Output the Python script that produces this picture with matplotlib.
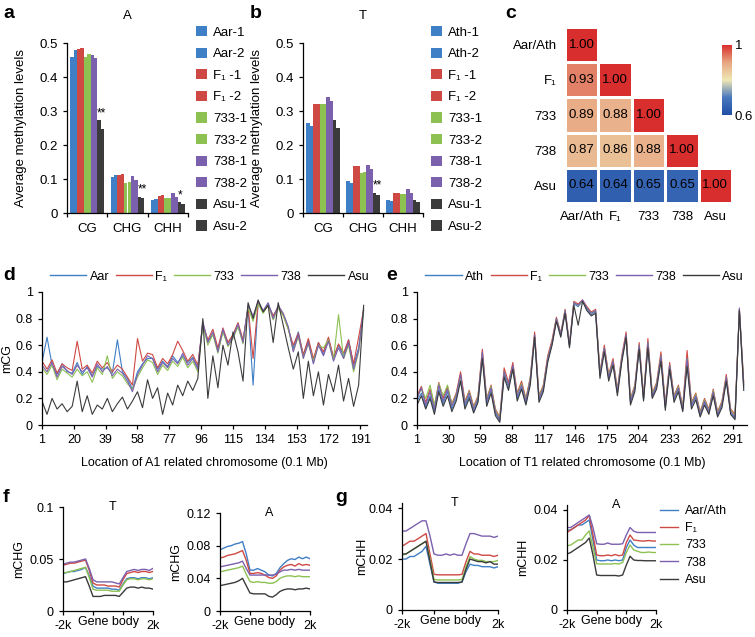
import numpy as np
import matplotlib
matplotlib.use('Agg')
import matplotlib.pyplot as plt
from matplotlib.colors import LinearSegmentedColormap
from matplotlib.lines import Line2D

plt.rcParams['font.family'] = ['Liberation Sans', 'DejaVu Sans']
plt.rcParams['font.size'] = 8.5
plt.rcParams['axes.linewidth'] = 0.9
plt.rcParams['xtick.major.width'] = 0.9
plt.rcParams['ytick.major.width'] = 0.9
plt.rcParams['xtick.major.size'] = 3
plt.rcParams['ytick.major.size'] = 3

# ---------------- data ----------------
contexts = ['CG', 'CHG', 'CHH']
samples_a = ['Aar-1', 'Aar-2', 'F₁ -1', 'F₁ -2', '733-1', '733-2', '738-1', '738-2', 'Asu-1', 'Asu-2']
samples_b = ['Ath-1', 'Ath-2', 'F₁ -1', 'F₁ -2', '733-1', '733-2', '738-1', '738-2', 'Asu-1', 'Asu-2']

a_cg = [0.460, 0.480, 0.483, 0.485, 0.460, 0.467, 0.465, 0.455, 0.273, 0.248]
a_chg = [0.105, 0.113, 0.112, 0.115, 0.088, 0.092, 0.110, 0.098, 0.048, 0.043]
a_chh = [0.038, 0.040, 0.050, 0.052, 0.044, 0.044, 0.058, 0.046, 0.032, 0.027]

b_cg = [0.265, 0.255, 0.320, 0.320, 0.320, 0.322, 0.340, 0.330, 0.275, 0.250]
b_chg = [0.094, 0.087, 0.137, 0.138, 0.118, 0.120, 0.140, 0.130, 0.060, 0.053]
b_chh = [0.038, 0.034, 0.060, 0.060, 0.055, 0.056, 0.072, 0.060, 0.038, 0.033]

heat_labels = ['Aar/Ath', 'F₁', '733', '738', 'Asu']
heat_rows = [[1.00],
             [0.93, 1.00],
             [0.89, 0.88, 1.00],
             [0.87, 0.86, 0.88, 1.00],
             [0.64, 0.64, 0.65, 0.65, 1.00]]

# panel d: A1 related chromosome, every 3rd bin (0.1 Mb)
d_x = np.arange(1, 194, 3)
d_aar = [0.47, 0.66, 0.45, 0.38, 0.46, 0.40, 0.39, 0.47, 0.38, 0.44,
         0.37, 0.44, 0.42, 0.43, 0.39, 0.64, 0.40, 0.35, 0.27, 0.40,
         0.46, 0.50, 0.50, 0.42, 0.48, 0.44, 0.52, 0.47, 0.52, 0.47,
         0.51, 0.43, 0.76, 0.63, 0.68, 0.57, 0.70, 0.62, 0.67, 0.74,
         0.63, 0.88, 0.30, 0.92, 0.85, 0.91, 0.82, 0.88, 0.83, 0.73,
         0.58, 0.70, 0.52, 0.64, 0.47, 0.62, 0.53, 0.65, 0.50, 0.60,
         0.52, 0.64, 0.45, 0.58, 0.86]
d_f1 = [0.48, 0.42, 0.49, 0.39, 0.46, 0.43, 0.41, 0.63, 0.42, 0.45,
        0.39, 0.48, 0.43, 0.47, 0.40, 0.45, 0.42, 0.36, 0.30, 0.65,
        0.48, 0.54, 0.53, 0.43, 0.50, 0.46, 0.53, 0.63, 0.56, 0.48,
        0.53, 0.45, 0.76, 0.64, 0.72, 0.58, 0.73, 0.62, 0.68, 0.77,
        0.64, 0.89, 0.50, 0.92, 0.85, 0.90, 0.82, 0.89, 0.83, 0.72,
        0.60, 0.69, 0.53, 0.65, 0.50, 0.62, 0.55, 0.66, 0.51, 0.61,
        0.54, 0.64, 0.46, 0.66, 0.87]
d_733 = [0.43, 0.38, 0.45, 0.34, 0.42, 0.39, 0.36, 0.42, 0.37, 0.40,
         0.32, 0.43, 0.38, 0.52, 0.35, 0.40, 0.37, 0.31, 0.27, 0.36,
         0.43, 0.49, 0.47, 0.38, 0.45, 0.41, 0.48, 0.44, 0.51, 0.43,
         0.48, 0.40, 0.75, 0.60, 0.68, 0.54, 0.70, 0.59, 0.65, 0.74,
         0.61, 0.88, 0.78, 0.91, 0.84, 0.90, 0.79, 0.88, 0.82, 0.72,
         0.56, 0.66, 0.51, 0.61, 0.48, 0.60, 0.58, 0.64, 0.49, 0.83,
         0.50, 0.60, 0.40, 0.55, 0.86]
d_738 = [0.45, 0.40, 0.47, 0.36, 0.44, 0.41, 0.38, 0.45, 0.40, 0.43,
         0.36, 0.46, 0.40, 0.44, 0.37, 0.42, 0.39, 0.33, 0.25, 0.38,
         0.45, 0.52, 0.50, 0.40, 0.47, 0.43, 0.50, 0.46, 0.54, 0.45,
         0.50, 0.42, 0.78, 0.62, 0.70, 0.55, 0.72, 0.60, 0.66, 0.76,
         0.62, 0.90, 0.82, 0.93, 0.86, 0.92, 0.80, 0.90, 0.84, 0.74,
         0.55, 0.68, 0.50, 0.62, 0.46, 0.60, 0.52, 0.63, 0.48, 0.58,
         0.50, 0.62, 0.42, 0.56, 0.88]
d_asu = [0.18, 0.08, 0.20, 0.12, 0.16, 0.10, 0.14, 0.33, 0.10, 0.22,
         0.08, 0.15, 0.12, 0.20, 0.10, 0.16, 0.21, 0.12, 0.18, 0.25,
         0.13, 0.34, 0.20, 0.28, 0.08, 0.24, 0.15, 0.30, 0.22, 0.33,
         0.26, 0.35, 0.80, 0.20, 0.52, 0.28, 0.60, 0.45, 0.70, 0.55,
         0.33, 0.92, 0.80, 0.94, 0.85, 0.90, 0.62, 0.92, 0.75, 0.58,
         0.42, 0.55, 0.20, 0.48, 0.22, 0.40, 0.15, 0.38, 0.25, 0.45,
         0.18, 0.35, 0.14, 0.30, 0.90]

# panel e: T1 related chromosome, every 4th bin (0.1 Mb)
e_x = np.arange(1, 302, 4)
e_ath = [0.18, 0.24, 0.13, 0.22, 0.10, 0.27, 0.16, 0.25, 0.12, 0.20,
         0.35, 0.14, 0.22, 0.10, 0.18, 0.52, 0.16, 0.26, 0.09, 0.03,
         0.38, 0.28, 0.43, 0.20, 0.28, 0.16, 0.32, 0.66, 0.19, 0.27,
         0.49, 0.61, 0.79, 0.67, 0.85, 0.59, 0.91, 0.89, 0.93, 0.87,
         0.83, 0.85, 0.37, 0.57, 0.35, 0.47, 0.24, 0.49, 0.66, 0.17,
         0.27, 0.58, 0.19, 0.60, 0.21, 0.29, 0.50, 0.13, 0.43, 0.19,
         0.27, 0.11, 0.48, 0.14, 0.21, 0.07, 0.17, 0.09, 0.24, 0.07,
         0.15, 0.34, 0.09, 0.05, 0.86, 0.28]
e_f1 = [0.22, 0.29, 0.17, 0.27, 0.14, 0.32, 0.20, 0.29, 0.16, 0.24,
        0.40, 0.18, 0.26, 0.14, 0.22, 0.57, 0.20, 0.30, 0.12, 0.06,
        0.43, 0.32, 0.47, 0.24, 0.33, 0.20, 0.36, 0.70, 0.22, 0.30,
        0.52, 0.64, 0.81, 0.69, 0.87, 0.61, 0.93, 0.91, 0.94, 0.89,
        0.85, 0.87, 0.40, 0.60, 0.38, 0.50, 0.27, 0.52, 0.70, 0.20,
        0.30, 0.62, 0.22, 0.65, 0.24, 0.32, 0.55, 0.16, 0.47, 0.22,
        0.30, 0.14, 0.56, 0.17, 0.24, 0.10, 0.20, 0.12, 0.27, 0.10,
        0.18, 0.38, 0.12, 0.08, 0.87, 0.32]
e_733 = [0.21, 0.27, 0.20, 0.30, 0.15, 0.31, 0.22, 0.30, 0.15, 0.23,
         0.36, 0.17, 0.25, 0.13, 0.21, 0.53, 0.19, 0.29, 0.11, 0.05,
         0.40, 0.30, 0.44, 0.23, 0.31, 0.19, 0.35, 0.67, 0.21, 0.29,
         0.50, 0.62, 0.80, 0.68, 0.86, 0.60, 0.92, 0.90, 0.93, 0.88,
         0.84, 0.86, 0.39, 0.58, 0.37, 0.48, 0.26, 0.50, 0.67, 0.19,
         0.29, 0.60, 0.21, 0.62, 0.23, 0.31, 0.52, 0.15, 0.45, 0.21,
         0.29, 0.13, 0.50, 0.16, 0.23, 0.09, 0.19, 0.11, 0.26, 0.09,
         0.17, 0.36, 0.11, 0.07, 0.87, 0.30]
e_738 = [0.20, 0.28, 0.15, 0.25, 0.12, 0.30, 0.18, 0.27, 0.14, 0.22,
         0.38, 0.16, 0.24, 0.12, 0.20, 0.55, 0.18, 0.28, 0.10, 0.04,
         0.40, 0.30, 0.45, 0.22, 0.30, 0.18, 0.34, 0.68, 0.20, 0.28,
         0.50, 0.62, 0.80, 0.68, 0.86, 0.60, 0.92, 0.90, 0.94, 0.88,
         0.84, 0.86, 0.38, 0.58, 0.36, 0.48, 0.25, 0.50, 0.68, 0.18,
         0.28, 0.60, 0.20, 0.62, 0.22, 0.30, 0.52, 0.14, 0.45, 0.20,
         0.28, 0.12, 0.50, 0.15, 0.22, 0.08, 0.18, 0.10, 0.25, 0.08,
         0.16, 0.36, 0.10, 0.06, 0.88, 0.30]
e_asu = [0.15, 0.22, 0.12, 0.20, 0.08, 0.25, 0.14, 0.22, 0.10, 0.18,
         0.33, 0.12, 0.20, 0.09, 0.17, 0.50, 0.14, 0.24, 0.07, 0.02,
         0.36, 0.26, 0.42, 0.18, 0.27, 0.15, 0.30, 0.66, 0.17, 0.25,
         0.47, 0.60, 0.78, 0.66, 0.84, 0.58, 0.90, 0.75, 0.93, 0.86,
         0.82, 0.84, 0.35, 0.55, 0.33, 0.45, 0.22, 0.47, 0.66, 0.15,
         0.25, 0.57, 0.18, 0.58, 0.20, 0.27, 0.48, 0.11, 0.42, 0.17,
         0.25, 0.10, 0.44, 0.12, 0.19, 0.06, 0.15, 0.08, 0.22, 0.06,
         0.13, 0.33, 0.08, 0.04, 0.86, 0.26]

# panels f/g: metaprofiles, 8 bins upstream, 8 gene body, 8 downstream
ft_aar = [0.036, 0.037, 0.038, 0.038, 0.039, 0.040, 0.042, 0.034, 0.024, 0.022, 0.022, 0.022, 0.022, 0.021, 0.021, 0.020,
          0.026, 0.031, 0.032, 0.032, 0.031, 0.032, 0.032, 0.031, 0.032]
ft_f1 = [0.044, 0.045, 0.046, 0.046, 0.047, 0.048, 0.049, 0.039, 0.027, 0.025, 0.025, 0.025, 0.024, 0.024, 0.024, 0.023,
         0.030, 0.036, 0.037, 0.038, 0.037, 0.038, 0.038, 0.037, 0.038]
ft_733 = [0.037, 0.037, 0.038, 0.039, 0.040, 0.041, 0.042, 0.032, 0.021, 0.020, 0.020, 0.020, 0.020, 0.019, 0.019, 0.019,
          0.025, 0.030, 0.031, 0.031, 0.030, 0.031, 0.031, 0.030, 0.031]
ft_738 = [0.045, 0.046, 0.047, 0.047, 0.048, 0.049, 0.050, 0.041, 0.030, 0.028, 0.028, 0.028, 0.028, 0.028, 0.027, 0.026,
          0.032, 0.038, 0.039, 0.040, 0.039, 0.040, 0.040, 0.039, 0.041]
ft_asu = [0.028, 0.028, 0.029, 0.030, 0.031, 0.032, 0.033, 0.024, 0.014, 0.014, 0.014, 0.015, 0.015, 0.015, 0.015, 0.014,
          0.018, 0.022, 0.023, 0.023, 0.022, 0.023, 0.022, 0.022, 0.021]

fa_aar = [0.075, 0.077, 0.079, 0.080, 0.082, 0.083, 0.085, 0.070, 0.050, 0.050, 0.052, 0.050, 0.048, 0.044, 0.043, 0.046,
          0.053, 0.058, 0.062, 0.064, 0.063, 0.066, 0.064, 0.066, 0.064]
fa_f1 = [0.065, 0.066, 0.068, 0.069, 0.070, 0.072, 0.074, 0.062, 0.046, 0.046, 0.047, 0.046, 0.044, 0.041, 0.040, 0.043,
         0.050, 0.054, 0.056, 0.057, 0.055, 0.058, 0.056, 0.057, 0.056]
fa_733 = [0.048, 0.049, 0.050, 0.051, 0.052, 0.053, 0.055, 0.045, 0.036, 0.035, 0.036, 0.035, 0.035, 0.034, 0.034, 0.036,
          0.040, 0.042, 0.043, 0.043, 0.042, 0.043, 0.042, 0.042, 0.042]
fa_738 = [0.054, 0.055, 0.056, 0.057, 0.058, 0.059, 0.061, 0.052, 0.044, 0.044, 0.044, 0.044, 0.044, 0.044, 0.044, 0.045,
          0.048, 0.050, 0.050, 0.051, 0.050, 0.051, 0.050, 0.050, 0.050]
fa_asu = [0.031, 0.032, 0.033, 0.034, 0.035, 0.037, 0.040, 0.031, 0.022, 0.021, 0.021, 0.021, 0.021, 0.018, 0.017, 0.020,
          0.024, 0.026, 0.027, 0.027, 0.026, 0.027, 0.027, 0.028, 0.027]

gt_aar = [0.020, 0.020, 0.021, 0.021, 0.022, 0.023, 0.025, 0.018, 0.011, 0.0105, 0.0105, 0.0105, 0.0105, 0.0105, 0.0105, 0.011,
          0.015, 0.018, 0.0175, 0.0175, 0.017, 0.017, 0.017, 0.0165, 0.017]
gt_f1 = [0.025, 0.026, 0.027, 0.027, 0.028, 0.029, 0.030, 0.022, 0.014, 0.0138, 0.0138, 0.0138, 0.0138, 0.0138, 0.0138, 0.014,
         0.019, 0.023, 0.022, 0.022, 0.0215, 0.0215, 0.0215, 0.021, 0.0215]
gt_733 = [0.0215, 0.022, 0.023, 0.024, 0.025, 0.026, 0.027, 0.020, 0.012, 0.0118, 0.0118, 0.0118, 0.0118, 0.0118, 0.0118, 0.012,
          0.017, 0.021, 0.020, 0.0195, 0.0195, 0.019, 0.019, 0.019, 0.0195]
gt_738 = [0.031, 0.031, 0.032, 0.033, 0.034, 0.035, 0.035, 0.029, 0.022, 0.0215, 0.0215, 0.022, 0.0215, 0.022, 0.0215, 0.0215,
          0.026, 0.030, 0.030, 0.0295, 0.029, 0.029, 0.029, 0.0285, 0.029]
gt_asu = [0.022, 0.022, 0.023, 0.024, 0.025, 0.026, 0.027, 0.019, 0.011, 0.0108, 0.0108, 0.0108, 0.0108, 0.0108, 0.0108, 0.011,
          0.016, 0.020, 0.0195, 0.019, 0.019, 0.0185, 0.019, 0.018, 0.018]

ga_aar = [0.032, 0.032, 0.033, 0.034, 0.034, 0.035, 0.036, 0.028, 0.020, 0.0197, 0.0197, 0.020, 0.0197, 0.020, 0.0197, 0.020,
          0.025, 0.028, 0.026, 0.025, 0.025, 0.025, 0.025, 0.025, 0.025]
ga_f1 = [0.031, 0.032, 0.033, 0.034, 0.035, 0.036, 0.0378, 0.030, 0.022, 0.0217, 0.0217, 0.022, 0.0217, 0.0222, 0.0217, 0.022,
         0.027, 0.030, 0.028, 0.0278, 0.0276, 0.0276, 0.0278, 0.0276, 0.0276]
ga_733 = [0.0257, 0.026, 0.027, 0.028, 0.028, 0.030, 0.0316, 0.025, 0.0185, 0.0184, 0.0184, 0.0184, 0.0184, 0.0186, 0.0184, 0.019,
          0.023, 0.026, 0.024, 0.0235, 0.023, 0.023, 0.0232, 0.023, 0.023]
ga_738 = [0.033, 0.033, 0.034, 0.035, 0.036, 0.037, 0.038, 0.033, 0.0265, 0.0263, 0.0263, 0.0268, 0.0263, 0.0263, 0.0263, 0.0265,
          0.030, 0.033, 0.0315, 0.031, 0.031, 0.031, 0.031, 0.031, 0.031]
ga_asu = [0.0224, 0.023, 0.024, 0.025, 0.026, 0.027, 0.0288, 0.022, 0.014, 0.0138, 0.0138, 0.0138, 0.0138, 0.0138, 0.0136, 0.014,
          0.018, 0.0215, 0.020, 0.0198, 0.0198, 0.0197, 0.0197, 0.0197, 0.0197]

# ---------------- style ----------------
BLUE, RED, GREEN, PURPLE, DARK = '#3f7fc6', '#cf4944', '#8dc152', '#7b60ae', '#3b3b3b'
bar_colors = [BLUE, BLUE, RED, RED, GREEN, GREEN, PURPLE, PURPLE, DARK, DARK]
line_colors = [BLUE, RED, GREEN, PURPLE, DARK]

W, H = 755, 637
fig = plt.figure(figsize=(W / 100, H / 100), dpi=100)


def box(x0, y0, x1, y1):
    # pixel box (top-left origin) -> figure fraction
    return [x0 / W, 1 - y1 / H, (x1 - x0) / W, (y1 - y0) / H]


def clean(ax):
    ax.spines['top'].set_visible(False)
    ax.spines['right'].set_visible(False)


def bar_panel(ax, labels, rows, stars, title):
    n = len(labels)
    w = 0.083
    centers = np.arange(len(contexts)) + 0.5
    for j, lab in enumerate(labels):
        ax.bar(centers + (j - (n - 1) / 2) * w, [r[j] for r in rows], width=w,
               color=bar_colors[j], label=lab)
    for ci, txt in stars:
        xs = centers[ci] + (n - 2 - (n - 1) / 2) * w
        ax.text(xs - w / 2, rows[ci][n - 2] + 0.003, txt, fontsize=8.5,
                ha='left', va='bottom')
    ax.set_xlim(0, 3)
    ax.set_ylim(0, 0.5)
    ax.set_xticks([0, 1, 2, 3])
    ax.set_xticklabels([])
    ax.set_xticks(centers, minor=True)
    ax.set_xticklabels(contexts, minor=True, fontsize=9.5)
    ax.tick_params(axis='x', which='minor', length=0, pad=7)
    ax.set_yticks([0, 0.1, 0.2, 0.3, 0.4, 0.5])
    ax.set_yticklabels(['0', '0.1', '0.2', '0.3', '0.4', '0.5'], fontsize=9.5)
    ax.set_ylabel('Average methylation levels', fontsize=9.5, labelpad=9)
    ax.set_title(title, fontsize=9.5, pad=17)
    clean(ax)
    ax.legend(loc='upper left', bbox_to_anchor=(1.07, 1.10), frameon=False,
              handlelength=0.8, handleheight=0.8, handletextpad=0.45,
              labelspacing=0.68, borderaxespad=0, borderpad=0, fontsize=9.5)


# a
ax_a = fig.add_axes(box(67, 43, 188, 213))
bar_panel(ax_a, samples_a, [a_cg, a_chg, a_chh], [(0, '**'), (1, '**'), (2, '*')], 'A')
# b
ax_b = fig.add_axes(box(303, 43, 423, 213))
bar_panel(ax_b, samples_b, [b_cg, b_chg, b_chh], [(1, '**')], 'T')

# c heatmap
ax_c = fig.add_axes(box(565, 27, 732, 203))
n_h = len(heat_labels)
mat = np.full((n_h, n_h), np.nan)
for i, row in enumerate(heat_rows):
    mat[i, :len(row)] = row
cmap = LinearSegmentedColormap.from_list(
    'corr', [(0, '#1f4fa6'), (0.25, '#4a78bd'), (0.5, '#efe7b4'), (0.75, '#e7a682'), (1, '#d92e2e')])
mesh = ax_c.pcolormesh(np.ma.masked_invalid(mat), cmap=cmap, vmin=0.6, vmax=1.0,
                       edgecolors='white', linewidth=1)
for i in range(n_h):
    for j in range(i + 1):
        ax_c.text(j + 0.5, i + 0.5, f'{mat[i, j]:.2f}', ha='center', va='center', fontsize=9.5)
ax_c.set_xlim(0, n_h)
ax_c.set_ylim(n_h, 0)
ax_c.set_xticks(np.arange(n_h) + 0.5)
ax_c.set_xticklabels(heat_labels, fontsize=9.5)
ax_c.set_yticks(np.arange(n_h) + 0.5)
ax_c.set_yticklabels(heat_labels, fontsize=9.5)
ax_c.tick_params(length=0, pad=6)
for s in ax_c.spines.values():
    s.set_visible(False)
cax = fig.add_axes(box(722, 45, 732, 115))
cb = fig.colorbar(mesh, cax=cax, ticks=[0.6, 1.0])
cb.ax.set_yticklabels(['0.6', '1'], fontsize=9.5)
cb.outline.set_visible(False)
cb.ax.tick_params(length=0, pad=2)


# d / e chromosome profiles
def chrom_panel(ax, x, series, names, ticks, xlabel, xmax):
    for ys, c in zip(series, line_colors):
        ax.plot(x, ys, color=c, lw=0.8)
    ax.set_xlim(1, xmax)
    ax.set_ylim(0, 1)
    ax.set_xticks(ticks)
    ax.set_xticklabels([str(t) for t in ticks], fontsize=9)
    ax.set_yticks([0, 0.2, 0.4, 0.6, 0.8, 1.0])
    ax.set_yticklabels(['0', '0.2', '0.4', '0.6', '0.8', '1'], fontsize=9)
    ax.set_xlabel(xlabel, fontsize=9, labelpad=8)
    clean(ax)
    handles = [Line2D([], [], color=c, lw=1) for c in line_colors]
    ax.legend(handles, names, ncol=5, loc='lower left', bbox_to_anchor=(0.025, 1.07),
              frameon=False, handlelength=2.9, handletextpad=0.25, columnspacing=0.55,
              borderaxespad=0, borderpad=0, fontsize=9)


ax_d = fig.add_axes(box(42, 292, 367, 425))
chrom_panel(ax_d, d_x, [d_aar, d_f1, d_733, d_738, d_asu], ['Aar', 'F₁', '733', '738', 'Asu'],
            np.arange(1, 192, 19), 'Location of A1 related chromosome (0.1 Mb)', 195)
ax_d.set_ylabel('mCG', fontsize=9, labelpad=2)

ax_e = fig.add_axes(box(417, 292, 747, 425))
chrom_panel(ax_e, e_x, [e_ath, e_f1, e_733, e_738, e_asu], ['Ath', 'F₁', '733', '738', 'Asu'],
            np.arange(1, 292, 29), 'Location of T1 related chromosome (0.1 Mb)', 304)


# f / g metaprofiles
def meta_panel(ax, series, ylim, yticks, yticklabels, ylabel, title):
    xb = np.arange(len(series[0]))
    for ys, c in zip(series, line_colors):
        ax.plot(xb, ys, color=c, lw=1.0)
    ax.set_xlim(0, len(xb) - 1)
    ax.set_ylim(*ylim)
    ax.set_xticks([0, 8, 16, 24])
    ax.set_xticklabels(['-2k', '', '', '2k'], fontsize=9)
    ax.set_xticks([12], minor=True)
    ax.set_xticklabels(['Gene body'], minor=True, fontsize=9)
    ax.tick_params(axis='x', which='minor', length=0)
    ax.set_yticks(yticks)
    ax.set_yticklabels(yticklabels, fontsize=9)
    ax.set_ylabel(ylabel, fontsize=9, labelpad=3)
    ax.text(0.55, 1.0, title, transform=ax.transAxes, ha='center', va='center', fontsize=9)
    clean(ax)


ax_ft = fig.add_axes(box(63, 507, 153, 611))
meta_panel(ax_ft, [ft_aar, ft_f1, ft_733, ft_738, ft_asu], (0, 0.1), [0, 0.05, 0.1],
           ['0', '0.05', '0.1'], 'mCHG', 'T')
ax_fa = fig.add_axes(box(220, 513, 310, 611))
meta_panel(ax_fa, [fa_aar, fa_f1, fa_733, fa_738, fa_asu], (0, 0.12), [0, 0.04, 0.08, 0.12],
           ['0', '0.04', '0.08', '0.12'], 'mCHG', 'A')
ax_gt = fig.add_axes(box(402, 503, 498, 610))
meta_panel(ax_gt, [gt_aar, gt_f1, gt_733, gt_738, gt_asu], (0, 0.042), [0, 0.02, 0.04],
           ['0', '0.02', '0.04'], 'mCHH', 'T')
ax_gt.yaxis.labelpad = 0
ax_ga = fig.add_axes(box(567, 505, 656, 610))
meta_panel(ax_ga, [ga_aar, ga_f1, ga_733, ga_738, ga_asu], (0, 0.042), [0, 0.02, 0.04],
           ['0', '0.02', '0.04'], 'mCHH', 'A')
ga_handles = [Line2D([], [], color=c, lw=1) for c in line_colors]
ax_ga.legend(ga_handles, ['Aar/Ath', 'F₁', '733', '738', 'Asu'], loc='upper left',
             bbox_to_anchor=(1.05, 1.0), frameon=False, handlelength=1.4, handletextpad=0.6,
             labelspacing=0.42, borderaxespad=0, borderpad=0, fontsize=9)

# panel letters
for lab, px, py in [('a', 3, 14), ('b', 250, 14), ('c', 505, 14), ('d', 3, 276),
                    ('e', 386, 276), ('f', 3, 497), ('g', 335, 497)]:
    fig.text(px / W, 1 - py / H, lab, fontsize=14, fontweight='bold', ha='left', va='center')

fig.savefig('out.png', dpi=100)
